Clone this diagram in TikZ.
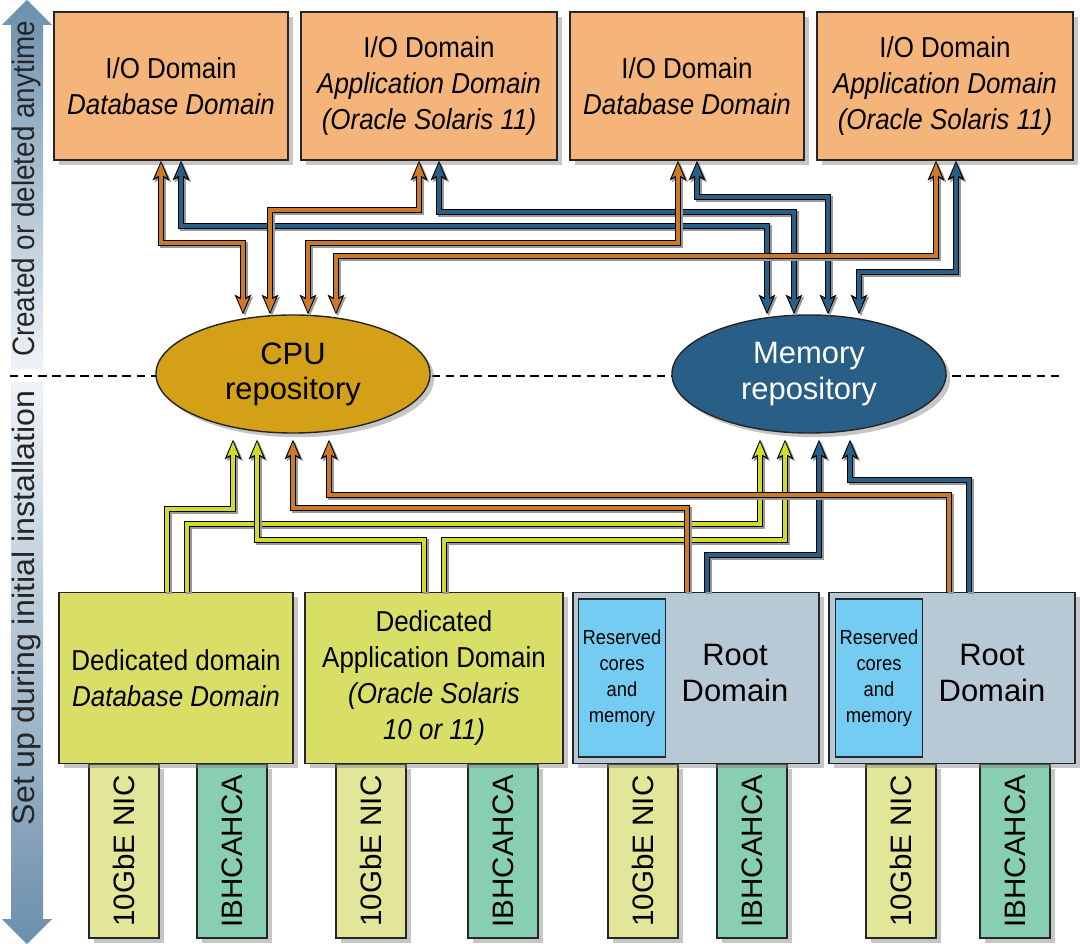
\documentclass[tikz,border=0pt]{standalone}
\usepackage{fontspec}
\usepackage{graphicx}
\setmainfont{Liberation Sans}
\newfontfamily\condfont{Liberation Sans}[FakeStretch=0.9]
\newfontfamily\widefont{Liberation Sans}[FakeStretch=1.04]
\usetikzlibrary{shapes.geometric,arrows.meta,shadows}

\definecolor{ioorange}{RGB}{245,180,122}
\definecolor{cpugold}{RGB}{212,160,23}
\definecolor{memblue}{RGB}{41,94,135}
\definecolor{dedgreen}{RGB}{216,222,102}
\definecolor{rootgray}{RGB}{182,201,213}
\definecolor{resblue}{RGB}{116,204,242}
\definecolor{nicyellow}{RGB}{226,230,152}
\definecolor{hcagreen}{RGB}{136,206,176}
\definecolor{worange}{RGB}{204,122,42}
\definecolor{wblue}{RGB}{40,95,135}
\definecolor{wyellow}{RGB}{208,220,40}
\definecolor{arrowdark}{RGB}{108,143,171}
\definecolor{arrowlight}{RGB}{238,243,247}

\tikzset{
    tipin/.tip={Stealth[length=10.5pt,width=8.5pt,inset=2.4pt,line width=0pt]},
    tipout/.tip={Stealth[length=14pt,width=12pt,inset=3pt,line width=0pt]},
    wire/.style={draw=#1, line width=2.7pt, -{tipin}, shorten >=1.6pt,
        preaction={draw=black!40, line width=4.3pt, shorten >=0pt, -{tipout},
            transform canvas={xshift=1.3pt, yshift=-1.3pt}},
        preaction={draw=black, line width=4.3pt, shorten >=0pt, -{tipout}}},
    wires/.style={draw=#1, line width=2.7pt, {tipin}-{tipin}, shorten >=1.6pt, shorten <=1.6pt,
        preaction={draw=black!40, line width=4.3pt, shorten >=0pt, shorten <=0pt, {tipout}-{tipout},
            transform canvas={xshift=1.3pt, yshift=-1.3pt}},
        preaction={draw=black, line width=4.3pt, shorten >=0pt, shorten <=0pt, {tipout}-{tipout}}},
    caja/.style={draw=black!85, line width=1.1pt, align=center, inner sep=0pt,
        drop shadow={opacity=0.45, shadow xshift=3.5pt, shadow yshift=-3.5pt},
        font=\condfont\fontsize{20.5}{25.5}\selectfont},
    iobox/.style={caja, fill=ioorange, minimum height=3.7cm},
    dedbox/.style={caja, fill=dedgreen, minimum height=4.275cm},
    rootbox/.style={caja, fill=rootgray, minimum width=6.15cm, minimum height=4.275cm},
    resbox/.style={draw=black!85, line width=1pt, fill=resblue, align=center, inner sep=0pt,
        minimum width=2.175cm, minimum height=3.95cm,
        font=\condfont\fontsize{14.5}{18.5}\selectfont},
    repo/.style={ellipse, draw=black!85, line width=1pt, inner sep=0pt, align=center,
        minimum width=6.85cm, minimum height=2.95cm,
        drop shadow={opacity=0.45, shadow xshift=3pt, shadow yshift=-3pt},
        font=\fontsize{22}{25}\selectfont},
    card/.style={caja, minimum width=1.75cm, minimum height=4.35cm,
        font=\fontsize{21}{25}\selectfont},
}

\begin{document}
\begin{tikzpicture}[x=0.025cm, y=-0.025cm]

    \useasboundingbox (0,0) rectangle (1080,944);

    % Linea divisoria
    \draw[line width=1.3pt, dash pattern=on 6pt off 4pt] (10,376) -- (1064,376);

    % Flechas laterales
    \shade[top color=arrowdark, bottom color=arrowlight]
        (27,0) -- (52,25) -- (43,25) -- (43,369) -- (11,369) -- (11,25) -- (2,25) -- cycle;
    \shade[top color=arrowlight, bottom color=arrowdark]
        (11,382) -- (43,382) -- (43,919) -- (52,919) -- (27,944) -- (2,919) -- (11,919) -- cycle;
    \node[rotate=90, text=black!85, font=\condfont\fontsize{22}{25}\selectfont] (creado) at (27,189) {Created or deleted anytime};
    \node[rotate=90, text=black!85, font=\widefont\fontsize{22}{25}\selectfont] (instal) at (27,608) {Set up during initial installation};

    % Tarjetas de red
    \foreach \n/\x in {1/124,2/371,3/643,4/901} {
        \node[card, fill=nicyellow] (nic\n) at (\x,851) {\rotatebox{90}{10GbE NIC}};
    }
    \foreach \n/\x in {1/232,2/503,3/752,4/1015} {
        \node[card, fill=hcagreen] (hca\n) at (\x,851) {\rotatebox{90}{IBHCAHCA}};
    }

    % Dominios I/O
    \node[iobox, minimum width=5.85cm] (io1) at (171,86) {I/O Domain\\\textit{Database Domain}};
    \node[iobox, minimum width=6.4cm] (io2) at (429,86) {I/O Domain\\\textit{Application Domain}\\\textit{(Oracle Solaris 11)}};
    \node[iobox, minimum width=5.85cm] (io3) at (687,86) {I/O Domain\\\textit{Database Domain}};
    \node[iobox, minimum width=6.4cm] (io4) at (945,86) {I/O Domain\\\textit{Application Domain}\\\textit{(Oracle Solaris 11)}};

    % Repositorios
    \node[repo, fill=cpugold] (cpu) at (293,374) {CPU\\repository};
    \node[repo, fill=memblue, text=white] (mem) at (809,374) {Memory\\repository};
    \coordinate (cpuB) at ([yshift=-0.15cm]cpu.south);
    \coordinate (memB) at ([yshift=-0.15cm]mem.south);

    % Dominios dedicados y raiz
    \node[dedbox, minimum width=5.85cm] (ded1) at (176,678) {Dedicated domain\\\textit{Database Domain}};
    \node[dedbox, minimum width=6.45cm] (ded2) at (434,678) {Dedicated\\Application Domain\\\textit{(Oracle Solaris}\\\textit{10 or 11)}};
    \node[rootbox] (root1) at (696,678) {};
    \node[rootbox] (root2) at (952,678) {};
    \node[resbox] (res1) at (622,678) {Reserved\\cores\\and\\memory};
    \node[resbox] (res2) at (879,678) {Reserved\\cores\\and\\memory};
    \node[align=center, font=\fontsize{22}{26}\selectfont] (rt1) at (735,673) {Root\\Domain};
    \node[align=center, font=\fontsize{22}{26}\selectfont] (rt2) at (992,673) {Root\\Domain};

    % Conexiones arriba (azul y naranja)
    \foreach \a/\s/\x/\y/\r/\c in {
        io1/181/767/226/mem/wblue, io2/439/794/212/mem/wblue,
        io3/697/828/197/mem/wblue, io4/956/859/272/mem/wblue,
        io1/161/243/243/cpu/worange, io2/419/270/210/cpu/worange,
        io3/678/308/243/cpu/worange, io4/936/336/256/cpu/worange} {
        \draw[wires=\c] (\a.south -| \s,0) |- (\x,\y) -- (\r.north -| \x,0);
    }

    % Conexiones abajo
    \foreach \a/\s/\x/\y/\r/\c in {
        ded1/167/233/509/cpuB/wyellow, ded1/187/760/524/memB/wyellow,
        ded2/424/257/540/cpuB/wyellow, ded2/444/785/540/memB/wyellow,
        root1/707/819/555/memB/wblue, root2/969/850/480/memB/wblue,
        root1/687/293/508/cpuB/worange, root2/949/329/495/cpuB/worange} {
        \draw[wire=\c] (\a.north -| \s,0) |- (\x,\y) -- (\r -| \x,0);
    }

\end{tikzpicture}
\end{document}
